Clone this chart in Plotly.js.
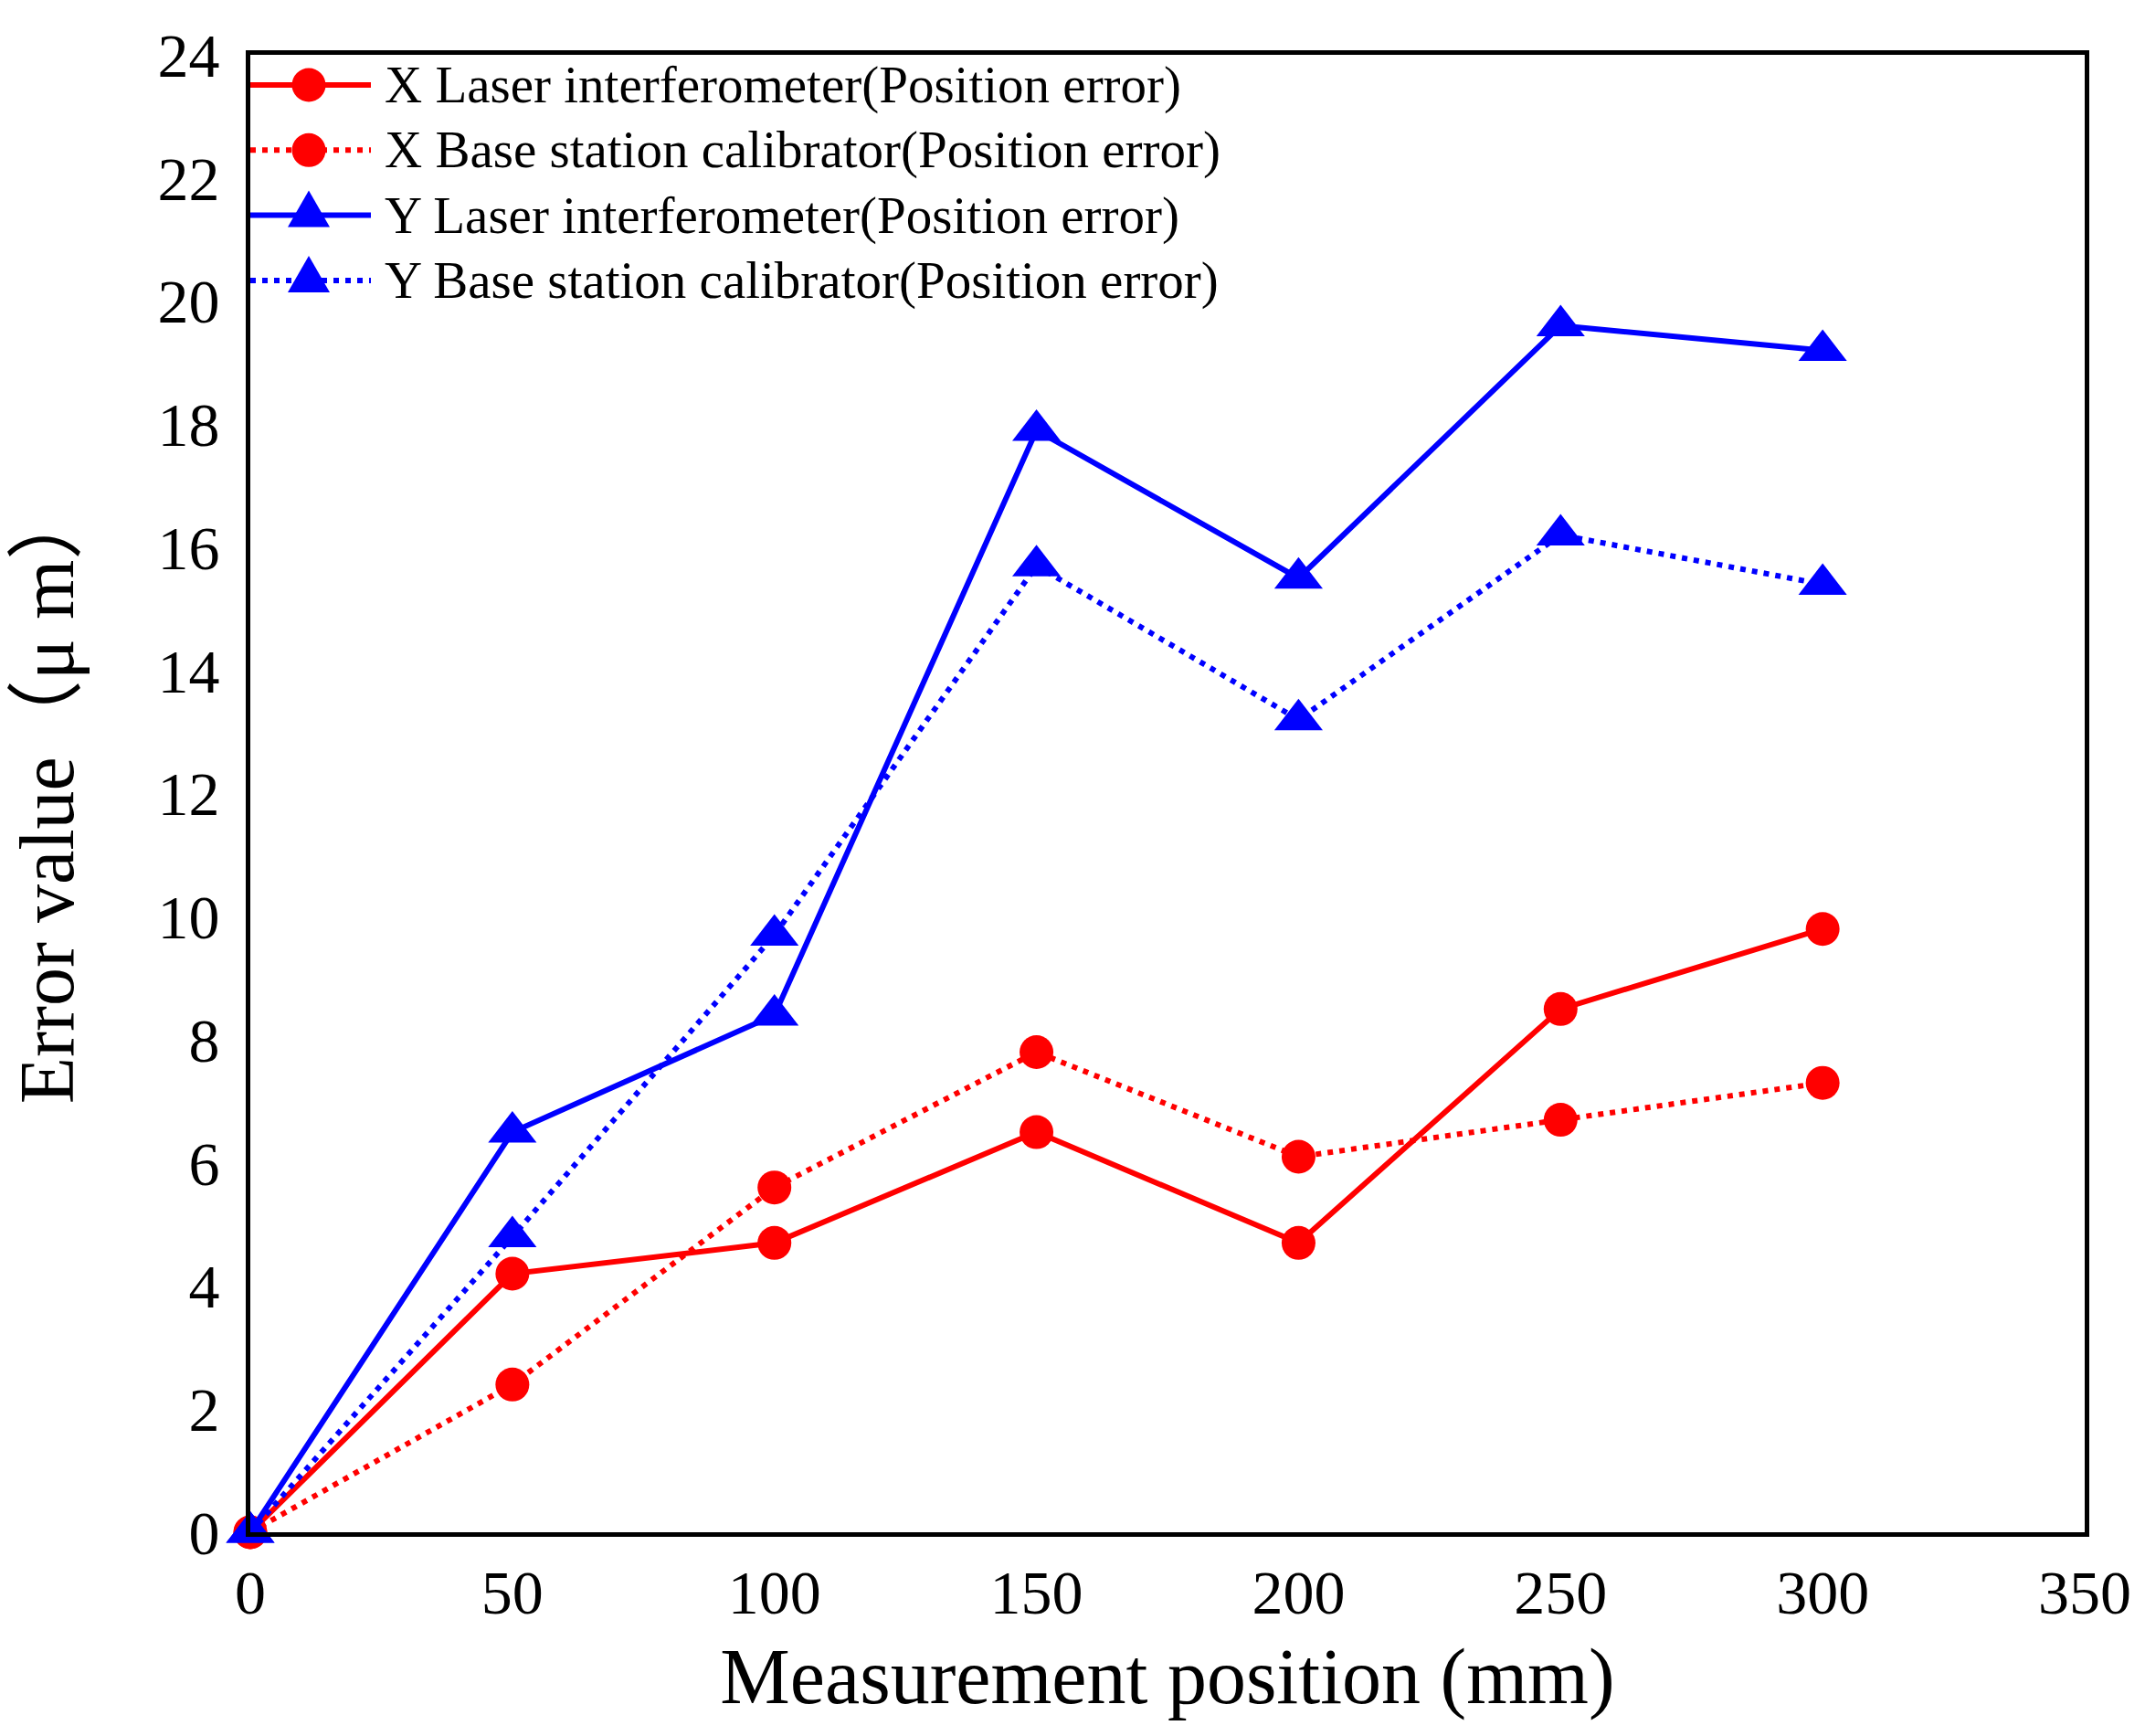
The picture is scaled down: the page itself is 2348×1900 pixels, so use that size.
<!DOCTYPE html>
<html>
<head>
<meta charset="utf-8">
<script src="https://cdn.plot.ly/plotly-3.0.1.min.js"></script>
<style>
  html, body { margin: 0; padding: 0; background: #fff; }
  #chart { width: 2348px; height: 1900px; }
</style>
</head>
<body>
<div id="chart"></div>
<script>
const positions = [0, 50, 100, 150, 200, 250, 300];
const xLaser = [0, 4.2, 4.7, 6.5, 4.7, 8.5, 9.8];
const xBase = [0, 2.4, 5.6, 7.8, 6.1, 6.7, 7.3];
const yLaser = [0, 6.5, 8.4, 17.9, 15.5, 19.6, 19.2];
const yBase = [0, 4.8, 9.7, 15.7, 13.2, 16.2, 15.4];

const seriesNames = [
  'X Laser interferometer(Position error)',
  'X Base station calibrator(Position error)',
  'Y Laser interferometer(Position error)',
  'Y Base station calibrator(Position error)',
];

const xTicks = [0, 50, 100, 150, 200, 250, 300, 350];
const yTicks = [0, 2, 4, 6, 8, 10, 12, 14, 16, 18, 20, 22, 24];

const red = '#ff0000';
const blue = '#0000ff';
const serif = '"Liberation Serif", "Times New Roman", "Noto Sans CJK SC", serif';
const dotted = '6px,7px';

const styles = [
  { color: red, dash: 'solid', symbol: 'circle' },
  { color: red, dash: dotted, symbol: 'circle' },
  { color: blue, dash: 'solid', symbol: 'triangle-up' },
  { color: blue, dash: dotted, symbol: 'triangle-up' },
];

const values = [xLaser, xBase, yLaser, yBase];

const traces = values.map((vals, i) => ({
  x: positions,
  y: vals,
  name: seriesNames[i],
  type: 'scatter',
  mode: 'lines+markers',
  cliponaxis: false,
  line: { color: styles[i].color, width: 6, dash: styles[i].dash },
  marker: {
    color: styles[i].color,
    symbol: styles[i].symbol,
    size: styles[i].symbol === 'circle' ? 37 : 46,
    line: { width: 0 },
  },
  showlegend: false,
}));

// plot area in px
const margin = { l: 274, r: 66, t: 60, b: 223 };
const plotW = 2348 - margin.l - margin.r;
const plotH = 1900 - margin.t - margin.b;

// hand-made legend, so symbol and line sizes follow the picture
const shapes = [];
const annotations = [];
seriesNames.forEach((name, i) => {
  const st = styles[i];
  const py = 1 - (33 + 71.3 * i) / plotH;
  shapes.push({
    type: 'line', xref: 'paper', yref: 'paper',
    x0: 0, x1: 132 / plotW, y0: py, y1: py,
    line: { color: st.color, width: 6, dash: st.dash },
  });
  if (st.symbol === 'circle') {
    shapes.push({
      type: 'circle', xref: 'paper', yref: 'paper',
      xsizemode: 'pixel', ysizemode: 'pixel',
      xanchor: 64 / plotW, yanchor: py,
      x0: -18.5, x1: 18.5, y0: -18.5, y1: 18.5,
      fillcolor: st.color, line: { width: 0 },
    });
  } else {
    shapes.push({
      type: 'path', xref: 'paper', yref: 'paper',
      xsizemode: 'pixel', ysizemode: 'pixel',
      xanchor: 64 / plotW, yanchor: py,
      path: 'M-23,-13L23,-13L0,27Z',
      fillcolor: st.color, line: { width: 0 },
    });
  }
  annotations.push({
    xref: 'paper', yref: 'paper',
    x: 145 / plotW, y: py,
    xanchor: 'left', yanchor: 'middle',
    text: name, showarrow: false,
    font: { family: serif, size: 57, color: '#000' },
  });
});

const layout = {
  width: 2348,
  height: 1900,
  margin: margin,
  paper_bgcolor: '#fff',
  plot_bgcolor: '#fff',
  showlegend: false,
  font: { family: serif, color: '#000' },
  xaxis: {
    range: [0, 350],
    tickvals: xTicks,
    ticks: '',
    ticklabelstandoff: 2,
    showgrid: false,
    zeroline: false,
    showline: true,
    mirror: true,
    linecolor: '#000',
    linewidth: 5,
    tickfont: { family: serif, size: 68, color: '#000' },
    title: {
      text: 'Measurement position (mm)',
      font: { family: serif, size: 86, color: '#000' },
      standoff: 26,
    },
  },
  yaxis: {
    range: [0, 24],
    tickvals: yTicks,
    ticks: '',
    ticklabelstandoff: 15,
    showgrid: false,
    zeroline: false,
    showline: true,
    mirror: true,
    linecolor: '#000',
    linewidth: 5,
    tickfont: { family: serif, size: 68, color: '#000' },
    title: {
      text: 'Error value（μ m）',
      font: { family: serif, size: 84, color: '#000' },
      standoff: 66,
    },
  },
  shapes: shapes,
  annotations: annotations,
};

const config = { displayModeBar: false, responsive: false };

Plotly.newPlot('chart', traces, layout, config);
</script>
</body>
</html>
